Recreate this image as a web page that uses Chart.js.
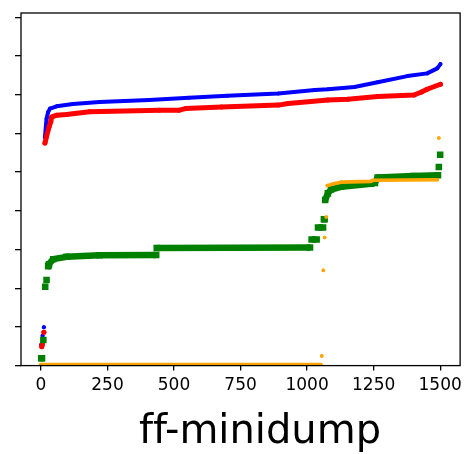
<!DOCTYPE html>
<html>
<head>
<meta charset="utf-8">
<script src="https://cdn.jsdelivr.net/npm/chart.js@4"></script>
<style>
  body { margin: 0; background: #fff; }
</style>
</head>
<body>
<canvas id="myChart" width="467" height="454"></canvas>
<script>
// tick positions (y labels are hidden in the original)
var xTicks = [0, 250, 500, 750, 1000, 1250, 1500];
var yTicks = [0, 1, 2, 3, 4, 5, 6, 7, 8, 9];

// null = gap between separate runs of points
var blueX = [1, null, 6, null, 11, null, 15, 21, 27, 34, 59, 120, 220, 407, 556, 700, 892, 1029, 1078, 1178, 1265, 1377, 1451, 1489, 1501];
var blueY = [0.54, null, 0.77, null, 0.99, null, 5.90, 6.38, 6.55, 6.64, 6.70, 6.76, 6.81, 6.86, 6.92, 6.97, 7.03, 7.12, 7.14, 7.20, 7.32, 7.48, 7.55, 7.68, 7.79];

var redX = [3, 5, null, 11, null, 15, 21, 31, 37, 40, 59, 96, 183, 444, 519, 544, 679, 892, 929, 1078, 1153, 1265, 1402, 1430, 1451, 1501];
var redY = [0.49, 0.55, null, 0.86, null, 5.75, 5.92, 6.18, 6.30, 6.42, 6.47, 6.49, 6.56, 6.60, 6.60, 6.64, 6.68, 6.73, 6.77, 6.86, 6.88, 6.95, 6.99, 7.07, 7.14, 7.27];

var greenX = [1, 4, null, 9, null, 16, null, 21, null, 27, 30, 46, 96, 220, 433, null, 435, 1011, null, 1017, 1036, null, 1041, 1060, null, 1063, 1066, null, 1068, 1078, 1090, 1128, 1240, 1255, 1265, 1400, 1492, null, 1495, null, 1500];
var greenY = [0.19, 0.19, null, 0.66, null, 2.04, null, 2.21, null, 2.57, 2.62, 2.75, 2.81, 2.85, 2.86, null, 3.04, 3.05, null, 3.26, 3.26, null, 3.57, 3.57, null, 3.78, 3.78, null, 4.28, 4.45, 4.55, 4.62, 4.70, 4.72, 4.86, 4.90, 4.92, null, 5.13, null, 5.45];

var orangeX = [0, 1052, null, 1055, null, 1061, null, 1066, null, 1072, null, 1076, 1100, 1128, 1240, 1250, 1489, null, 1495];
var orangeY = [0.03, 0.03, null, 0.25, null, 2.46, null, 3.31, null, 3.84, null, 4.65, 4.70, 4.74, 4.76, 4.79, 4.80, null, 5.88];

function toPoints(xs, ys) {
  return xs.map(function (x, i) {
    return { x: x, y: ys[i] };
  });
}

function series(xs, ys, color, size, style, order) {
  return {
    data: toPoints(xs, ys),
    showLine: true,
    spanGaps: false,
    tension: 0,
    borderColor: color,
    backgroundColor: color,
    borderWidth: size,
    borderCapStyle: style === 'rect' ? 'butt' : 'round',
    borderJoinStyle: 'round',
    pointStyle: style,
    pointRadius: style === 'rect' ? size * 0.71 : size / 2,
    pointBorderWidth: 0,
    pointBackgroundColor: color,
    order: order,
  };
}

// draws the frame on top of the points, and the big label below
var framePlugin = {
  id: 'frame',
  afterDatasetsDraw: function (chart) {
    var a = chart.chartArea;
    var ctx = chart.ctx;
    ctx.save();
    ctx.strokeStyle = '#000';
    ctx.lineWidth = 1.3;
    ctx.strokeRect(a.left, a.top, a.right - a.left, a.bottom - a.top);
    ctx.restore();
  },
  afterDraw: function (chart) {
    var ctx = chart.ctx;
    ctx.save();
    ctx.fillStyle = '#000';
    ctx.font = '40px "DejaVu Sans"';
    ctx.textAlign = 'center';
    ctx.textBaseline = 'alphabetic';
    // zero width non-joiner keeps the two f's apart (no ligature)
    ctx.fillText('f\u200Cf-minidump', 260, 443);
    ctx.restore();
  },
};

const ctx = document.getElementById('myChart');

new Chart(ctx, {
  type: 'scatter',
  data: {
    datasets: [
      series(blueX, blueY, '#0000ff', 4, 'circle', 4),
      series(redX, redY, '#ff0000', 5, 'circle', 3),
      series(greenX, greenY, '#008000', 6.5, 'rect', 2),
      series(orangeX, orangeY, '#ffa500', 3.6, 'circle', 1),
    ],
  },
  options: {
    responsive: false,
    animation: false,
    devicePixelRatio: 1,
    layout: { padding: { left: 15, top: 13, right: 4, bottom: 53 } },
    plugins: {
      legend: { display: false },
      tooltip: { enabled: false },
    },
    scales: {
      x: {
        type: 'linear',
        min: -75,
        max: 1575,
        afterBuildTicks: function (axis) {
          axis.ticks = xTicks.map(function (v) { return { value: v }; });
        },
        border: { display: false },
        grid: { drawOnChartArea: false, color: '#000', lineWidth: 1.3, tickLength: 5 },
        ticks: {
          color: '#000',
          font: { family: 'DejaVu Sans', size: 17 },
          padding: 5,
          maxRotation: 0,
          callback: function (value) { return String(value); },
        },
      },
      y: {
        type: 'linear',
        min: 0,
        max: 9.11,
        afterBuildTicks: function (axis) {
          axis.ticks = yTicks.map(function (v) { return { value: v }; });
        },
        border: { display: false },
        grid: { drawOnChartArea: false, color: '#000', lineWidth: 1.3, tickLength: 6 },
        ticks: { display: false },
      },
    },
  },
  plugins: [framePlugin],
});
</script>
</body>
</html>
